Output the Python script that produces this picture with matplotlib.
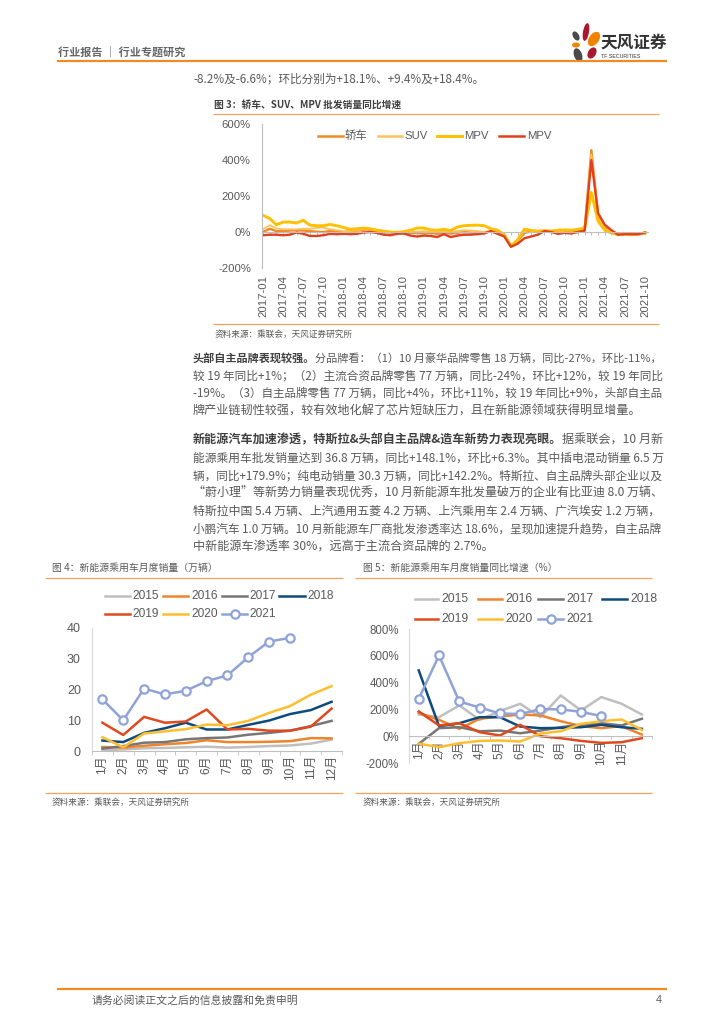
import matplotlib
matplotlib.use('Agg')
import matplotlib.pyplot as plt
from matplotlib.patches import Ellipse, Rectangle

plt.rcParams['font.family'] = ['Noto Sans CJK SC', 'DejaVu Sans']

# ---------------- data ----------------
months3 = [f"{y}-{m:02d}" for y in range(2017, 2022) for m in range(1, 13)][:58]
sedan = [0, 18, 5, 5, 8, 10, 8, 5, 2, 0, 5, 5,
         0, 5, 8, 10, 12, 8, 0, -2, -5, -8, -5, -5,
         -8, -5, -10, -5, -8, -5, 0, -3, -5, 0, 2, -2,
         -20, -82, -50, -5, 2, 5, 5, 3, 8, 10, 5, 8,
         20, 455, 90, 25, 0, -12, -10, -10, -12, -5]
suv = [15, 38, 20, 15, 15, 15, 18, 18, 22, 25, 15, 10,
       5, 5, 10, 15, 10, 5, 0, -2, -5, 0, 0, 2,
       5, 0, 0, 5, 0, 5, 10, 8, 5, 0, 0, -5,
       -20, -75, -40, 18, 12, 8, 8, 5, 10, 12, 8, 10,
       30, 430, 80, 20, 0, -10, -10, -12, -15, -8]
mpv = [93, 75, 40, 55, 55, 50, 65, 38, 35, 35, 42, 35,
       25, 15, 18, 22, 18, 10, 5, 0, -2, 2, 10, 22,
       22, 12, 10, 15, 8, 28, 35, 37, 38, 35, 18, 10,
       -15, -78, -45, 15, 8, 3, 8, 5, 10, 12, 10, 15,
       20, 220, 60, 10, -5, -15, -12, -15, -12, -5]
mpv2 = [-18, -15, -15, -18, -15, -3, -10, -22, -22, -18, -10, -12,
        -10, -12, -10, -3, 0, -5, -15, -18, -10, -8, -20, -25,
        -20, -22, -28, -12, -28, -20, -15, -15, -12, -8, 5, -10,
        -25, -82, -65, -35, -25, -15, 5, 0, -10, -5, -8, 0,
        7, 400, 105, 40, 10, -15, -12, -12, -12, -3]
series3_names = ['轿车', 'SUV', 'MPV', 'MPV']

months = ['1月', '2月', '3月', '4月', '5月', '6月', '7月', '8月', '9月', '10月', '11月', '12月']
years = ['2015', '2016', '2017', '2018', '2019', '2020', '2021']
sales_2015 = [0.3, 0.5, 0.9, 1.0, 1.2, 1.4, 1.1, 1.3, 1.6, 1.8, 2.4, 3.7]
sales_2016 = [1.3, 1.1, 1.7, 2.2, 2.6, 3.5, 2.9, 2.9, 3.0, 3.2, 4.2, 4.1]
sales_2017 = [0.8, 1.6, 2.7, 2.9, 3.8, 4.2, 4.4, 5.3, 5.9, 6.6, 8.1, 9.8]
sales_2018 = [3.4, 2.9, 5.9, 7.4, 9.2, 7.0, 7.0, 8.5, 9.9, 12.0, 13.3, 16.0]
sales_2019 = [9.2, 5.2, 11.1, 9.2, 9.6, 13.5, 7.0, 7.2, 6.6, 6.6, 7.9, 13.8]
sales_2020 = [4.5, 1.2, 5.7, 6.4, 7.1, 8.6, 8.4, 9.8, 12.4, 14.6, 18.3, 21.1]
sales_2021 = [16.8, 10.0, 20.3, 18.4, 19.6, 22.7, 24.6, 30.5, 35.6, 36.8]

yoy_2015 = [162, 142, 230, 122, 187, 242, 142, 304, 192, 292, 242, 162]
yoy_2016 = [175, 122, 55, 130, 147, 162, 155, 112, 75, 60, 75, 12]
yoy_2017 = [-57, 60, 67, 37, 42, 22, 42, 67, 87, 97, 80, 130]
yoy_2018 = [491, 75, 97, 142, 142, 72, 60, 62, 67, 85, 67, 55]
yoy_2019 = [185, 80, 97, 30, 5, 85, 0, -15, -35, -50, -45, -15]
yoy_2020 = [-55, -82, -52, -35, -32, -40, 20, 37, 92, 112, 125, 47]
yoy_2021 = [279, 603, 259, 214, 170, 165, 202, 200, 182, 150]

# ---------------- style ----------------
c3 = ['#F08A24', '#FBC25E', '#FFC000', '#E2401C']
lw3 = [1.7, 1.3, 2.1, 1.7]
ycol = {'2015': '#BFBFBF', '2016': '#F0842C', '2017': '#767676', '2018': '#0E4A7C',
        '2019': '#DE4A1E', '2020': '#FFBE2E', '2021': '#8FA3D8'}
GRAY = '#595959'
ORANGE = '#F08A24'
NUMF = ['Liberation Sans', 'Noto Sans CJK SC']

W, H = 724, 1024
fig = plt.figure(figsize=(7.24, 10.24), dpi=100)
ax0 = fig.add_axes([0, 0, 1, 1])
ax0.set_xlim(0, W)
ax0.set_ylim(H, 0)
ax0.axis('off')
ax0.patch.set_visible(False)


def px_axes(x0, y0, x1, y1):
    a = fig.add_axes([x0 / W, 1 - y1 / H, (x1 - x0) / W, (y1 - y0) / H])
    a.patch.set_visible(False)
    return a


def hline(y, x0, x1, color=ORANGE, lw=1.5):
    ax0.plot([x0, x1], [y, y], color=color, lw=lw, solid_capstyle='butt')


# ---------------- header / footer ----------------
ax0.text(58, 52, '行业报告 ｜ 行业专题研究', fontsize=8.0, color='#666666', fontweight='bold', va='center')
hline(61, 57, 667, lw=1.6)
for (cx, cy, w, h, ang, col) in [(586, 32, 6, 18, 10, '#A6192E'), (576, 36, 6, 10, -30, '#4A4A4A'),
                                 (594, 39, 10, 16, 35, '#F08300'), (576, 45, 8, 5, 0, '#F08300'),
                                 (578, 55, 8, 14, -20, '#4A4A4A'), (592, 53, 8, 12, 30, '#A6192E')]:
    ax0.add_patch(Ellipse((cx, cy), w, h, angle=ang, color=col, lw=0))
ax0.text(600, 43, '天风证券', fontsize=12, fontweight='bold', color='#333333', va='center')
ax0.text(601, 57, 'TF SECURITIES', fontsize=3.8, color='#333333', va='center', family=NUMF)
hline(989, 57, 667, lw=1.6)
ax0.text(92, 1000, '请务必阅读正文之后的信息披露和免责申明', fontsize=7.8, color=GRAY, va='center')
ax0.text(659, 1000, '4', fontsize=7.8, color=GRAY, va='center', ha='center', family=NUMF)

# ---------------- body text ----------------
renderer = fig.canvas.get_renderer()


def body_line(y, segs, justify=True, x0=193, x1=664, base=8.7):
    texts = []
    for s, b in segs:
        t = ax0.text(x0, y, s, fontsize=base, fontweight='bold' if b else 'normal',
                     color='#404040' if b else GRAY, va='center', ha='left')
        texts.append(t)
    total = sum(t.get_window_extent(renderer).width for t in texts)
    scale = (x1 - x0) / total if justify else 1.0
    scale = min(max(scale, 0.9), 1.1)
    x = x0
    for t in texts:
        t.set_fontsize(base * scale)
        t.set_x(x)
        x += t.get_window_extent(renderer).width


body_line(79, [('-8.2%及-6.6%；环比分别为+18.1%、+9.4%及+18.4%。', False)], justify=False, base=8.4)

p1 = [[('头部自主品牌表现较强。', True), ('分品牌看：（1）10 月豪华品牌零售 18 万辆，同比-27%，环比-11%，', False)],
      [('较 19 年同比+1%；（2）主流合资品牌零售 77 万辆，同比-24%，环比+12%，较 19 年同比', False)],
      [('-19%。（3）自主品牌零售 77 万辆，同比+4%，环比+11%，较 19 年同比+9%，头部自主品', False)],
      [('牌产业链韧性较强，较有效地化解了芯片短缺压力，且在新能源领域获得明显增量。', False)]]
for i, (y, segs) in enumerate(zip([358, 376, 393, 411], p1)):
    body_line(y, segs, justify=(i < 3))

p2 = [[('新能源汽车加速渗透，特斯拉&头部自主品牌&造车新势力表现亮眼。', True), ('据乘联会，10 月新', False)],
      [('能源乘用车批发销量达到 36.8 万辆，同比+148.1%，环比+6.3%。其中插电混动销量 6.5 万', False)],
      [('辆，同比+179.9%；纯电动销量 30.3 万辆，同比+142.2%。特斯拉、自主品牌头部企业以及', False)],
      [('“蔚小理”等新势力销量表现优秀，10 月新能源车批发量破万的企业有比亚迪 8.0 万辆、', False)],
      [('特斯拉中国 5.4 万辆、上汽通用五菱 4.2 万辆、上汽乘用车 2.4 万辆、广汽埃安 1.2 万辆，', False)],
      [('小鹏汽车 1.0 万辆。10 月新能源车厂商批发渗透率达 18.6%，呈现加速提升趋势，自主品牌', False)],
      [('中新能源车渗透率 30%，远高于主流合资品牌的 2.7%。', False)]]
for i, (y, segs) in enumerate(zip([440, 458, 476, 493, 511, 529, 546], p2)):
    body_line(y, segs, justify=(i < 6))

# ---------------- figure 3 ----------------
ax0.text(214, 105, '图 3：轿车、SUV、MPV 批发销量同比增速', fontsize=7, fontweight='bold', color='#404040', va='center')
hline(114, 213, 659, color='#F5A35C', lw=0.9)
hline(324, 213, 659, color='#F5A35C', lw=0.9)
ax0.text(215, 334, '资料来源：乘联会，天风证券研究所', fontsize=6.2, color=GRAY, va='center')

ax3 = px_axes(262, 124, 648, 268)
x3 = list(range(len(months3)))
for vals, col, lw in zip([sedan, suv, mpv, mpv2], c3, lw3):
    ax3.plot(x3, vals, color=col, lw=lw, solid_joinstyle='round')
ax3.set_xlim(-0.15, 57.45)
ax3.set_ylim(-200, 600)
ax3.set_yticks([-200, 0, 200, 400, 600])
ax3.set_yticklabels(['-200%', '0%', '200%', '400%', '600%'], family=NUMF)
ax3.tick_params(axis='y', length=0, pad=8, labelsize=8.1, labelcolor=GRAY)
for s in ['top', 'right']:
    ax3.spines[s].set_visible(False)
ax3.spines['left'].set_color('#BFBFBF')
ax3.spines['bottom'].set_position(('data', 0))
ax3.spines['bottom'].set_color('#BFBFBF')
ax3.set_xticks(x3)
ax3.tick_params(axis='x', length=2, color='#BFBFBF', labelbottom=False)
sec3 = ax3.secondary_xaxis('bottom')
sec3.set_xticks(x3[::3])
sec3.set_xticklabels(months3[::3], rotation=90, family=NUMF)
sec3.tick_params(length=0, pad=5, labelsize=8.2, labelcolor=GRAY)
sec3.spines['bottom'].set_visible(False)

leg3 = [(318, 343, 345), (378, 402, 404), (437, 462, 464), (499, 524, 527)]
for (a, b, tx), col, lw, nm in zip(leg3, c3, lw3, series3_names):
    ax0.plot([a, b], [136, 136], color=col, lw=max(lw, 1.8))
    ax0.text(tx, 136, nm, fontsize=8.2, color=GRAY, va='center', family=NUMF)

# ---------------- figure 4 ----------------
ax0.text(52, 568, '图 4：新能源乘用车月度销量（万辆）', fontsize=7.1, color=GRAY, va='center')
hline(578, 45, 343, color='#F5A35C', lw=0.9)
hline(793, 45, 343, color='#F5A35C', lw=0.9)
ax0.text(52, 802, '资料来源：乘联会，天风证券研究所', fontsize=6.2, color=GRAY, va='center')

sales = [sales_2015, sales_2016, sales_2017, sales_2018, sales_2019, sales_2020, sales_2021]
ax4 = px_axes(92, 628, 342, 751)
for yr, vals in zip(years, sales):
    xs = list(range(len(vals)))
    if yr == '2021':
        ax4.plot(xs, vals, color=ycol[yr], lw=1.8, marker='o', ms=6, mfc='white', mew=1.6, zorder=5)
    else:
        ax4.plot(xs, vals, color=ycol[yr], lw=1.8)
ax4.set_xlim(-0.5, 11.5)
ax4.set_ylim(0, 40)
ax4.set_yticks([0, 10, 20, 30, 40])
ax4.set_yticklabels(['0', '10', '20', '30', '40'], family=NUMF)
ax4.tick_params(axis='y', length=0, pad=8, labelsize=9, labelcolor=GRAY)
ax4.set_xticks(range(12))
ax4.set_xticklabels(months, rotation=90, family=NUMF)
ax4.tick_params(axis='x', length=0, pad=3, labelsize=8.6, labelcolor=GRAY)
ax4.set_xticks([i + 0.5 for i in range(-1, 12)], minor=True)
ax4.tick_params(axis='x', which='minor', length=3, color='#BFBFBF')
for s in ['top', 'right']:
    ax4.spines[s].set_visible(False)
ax4.spines['left'].set_color('#D9D9D9')
ax4.spines['bottom'].set_color('#BFBFBF')

leg4 = {'2015': (105, 130, 132, 596), '2016': (163, 188, 191, 596), '2017': (222, 247, 249, 596),
        '2018': (279, 305, 307, 596), '2019': (105, 130, 132, 614), '2020': (163, 188, 191, 614),
        '2021': (222, 247, 249, 614)}
for yr in years:
    a, b, tx, yy = leg4[yr]
    ax0.plot([a, b], [yy, yy], color=ycol[yr], lw=1.8)
    if yr == '2021':
        ax0.plot([(a + b) / 2], [yy], marker='o', ms=6, mfc='white', mec=ycol[yr], mew=1.6)
    ax0.text(tx, yy, yr, fontsize=8.6, color=GRAY, va='center', family=NUMF)

# ---------------- figure 5 ----------------
ax0.text(363, 568, '图 5：新能源乘用车月度销量同比增速（%）', fontsize=7.1, color=GRAY, va='center')
hline(578, 355, 652, color='#F5A35C', lw=0.9)
hline(793, 355, 652, color='#F5A35C', lw=0.9)
ax0.text(363, 802, '资料来源：乘联会，天风证券研究所', fontsize=6.2, color=GRAY, va='center')

yoy = [yoy_2015, yoy_2016, yoy_2017, yoy_2018, yoy_2019, yoy_2020, yoy_2021]
ax5 = px_axes(408.6, 629, 652, 763)
for yr, vals in zip(years, yoy):
    xs = list(range(len(vals)))
    if yr == '2021':
        ax5.plot(xs, vals, color=ycol[yr], lw=1.8, marker='o', ms=6, mfc='white', mew=1.6, zorder=5)
    else:
        ax5.plot(xs, vals, color=ycol[yr], lw=1.8)
ax5.set_xlim(-0.5, 11.27)
ax5.set_ylim(-200, 800)
ax5.set_yticks([-200, 0, 200, 400, 600, 800])
ax5.set_yticklabels(['-200%', '0%', '200%', '400%', '600%', '800%'], family=NUMF)
ax5.tick_params(axis='y', length=0, pad=7, labelsize=8.3, labelcolor=GRAY)
ax5.spines['bottom'].set_position(('data', 0))
ax5.set_xticks(range(11))
ax5.set_xticklabels(months[:11], rotation=90, family=NUMF)
ax5.tick_params(axis='x', length=0, pad=3, labelsize=8.6, labelcolor=GRAY)
ax5.set_xticks([i + 0.5 for i in range(-1, 12)], minor=True)
ax5.tick_params(axis='x', which='minor', length=2, color='#BFBFBF')
for s in ['top', 'right']:
    ax5.spines[s].set_visible(False)
ax5.spines['left'].set_color('#D9D9D9')
ax5.spines['bottom'].set_color('#BFBFBF')

clip5 = Rectangle((355, 560), 297, 250, transform=ax0.transData, visible=False)
ax0.add_patch(clip5)
leg5 = {'2015': (415, 438, 441, 599), '2016': (478, 502, 505, 599), '2017': (538, 563, 566, 599),
        '2018': (602, 627, 630, 599), '2019': (415, 438, 441, 619), '2020': (478, 502, 505, 619),
        '2021': (538, 563, 566, 619)}
for yr in years:
    a, b, tx, yy = leg5[yr]
    ax0.plot([a, b], [yy, yy], color=ycol[yr], lw=1.8)
    if yr == '2021':
        ax0.plot([(a + b) / 2], [yy], marker='o', ms=6, mfc='white', mec=ycol[yr], mew=1.6)
    t = ax0.text(tx, yy, yr, fontsize=8.7, color=GRAY, va='center', family=NUMF)
    t.set_clip_path(clip5)

fig.savefig('out.png', dpi=100)
